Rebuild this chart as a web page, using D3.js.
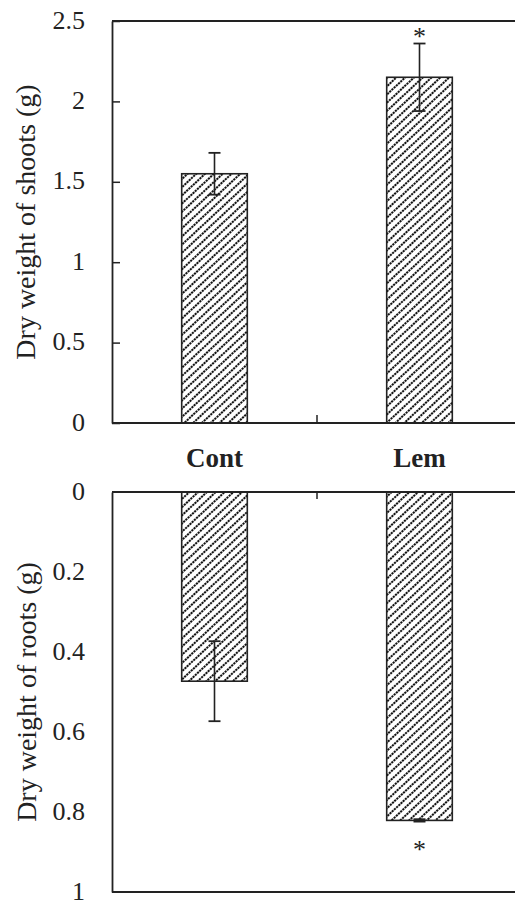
<!DOCTYPE html>
<html>
<head>
<meta charset="utf-8">
<script src="https://cdn.jsdelivr.net/npm/d3@7"></script>
<style>
  body { margin: 0; background: #fff; }
</style>
</head>
<body>
<div id="chart"></div>
<script>
// data
const categories = ["Cont", "Lem"];
const shootMeans = [1.55, 2.15];
const shootErrors = [0.13, 0.21];
const shootStars = ["", "*"];
const rootMeans = [0.473, 0.821];
const rootErrors = [0.10, 0.003];
const rootStars = ["", "*"];
const shootTicks = [0, 0.5, 1, 1.5, 2, 2.5];
const rootTicks = [0, 0.2, 0.4, 0.6, 0.8, 1];

const W = 515, H = 905;
const axisX = 112;
const ink = "#222";
const serif = "'Liberation Serif'";

const svg = d3.select("#chart")
  .append("svg")
  .attr("width", W)
  .attr("height", H);

// hatch fill for the bars (dotted diagonal lines)
const pat = svg.append("defs")
  .append("pattern")
  .attr("id", "hatch")
  .attr("patternUnits", "userSpaceOnUse")
  .attr("width", 6)
  .attr("height", 6)
  .attr("patternTransform", "rotate(-43)");
pat.append("rect").attr("width", 6).attr("height", 6).attr("fill", "#fff");
pat.append("line")
  .attr("x1", 0).attr("y1", 3).attr("x2", 6).attr("y2", 3)
  .attr("stroke", "#111")
  .attr("stroke-width", 1.9)
  .attr("stroke-dasharray", "2.2,0.8");

const xScale = d3.scaleBand()
  .domain(categories)
  .range([axisX, axisX + 410])
  .paddingInner(0.68)
  .paddingOuter(0.34);

let drawPanel = (means, errors, stars, ticks, yScale, opts) => {
  const g = svg.append("g");
  const y0 = yScale(0);

  // y axis
  const yAxis = d3.axisLeft(yScale)
    .tickValues(ticks)
    .tickFormat(d => String(d))
    .tickSizeInner(opts.yTicks ? -8 : 0)
    .tickSizeOuter(0)
    .tickPadding(27);
  const ya = g.append("g")
    .attr("transform", `translate(${axisX},0)`)
    .call(yAxis);
  ya.select(".domain").attr("stroke", ink).attr("stroke-width", 1.8);
  ya.selectAll(".tick line").attr("stroke", ink).attr("stroke-width", 1.5);
  ya.selectAll(".tick text")
    .attr("dy", "0.27em")
    .style("font-family", serif)
    .style("font-size", "26px")
    .attr("fill", ink);

  // bars
  g.selectAll(".bar")
    .data(means)
    .enter()
    .append("rect")
    .attr("x", (d, i) => xScale(categories[i]))
    .attr("width", xScale.bandwidth())
    .attr("y", d => Math.min(y0, yScale(d)))
    .attr("height", d => Math.abs(yScale(d) - y0))
    .attr("fill", "url(#hatch)")
    .attr("stroke", ink)
    .attr("stroke-width", 1.6);

  // error bars
  const cx = i => xScale(categories[i]) + xScale.bandwidth() / 2;
  means.forEach((m, i) => {
    const a = yScale(m - errors[i]), b = yScale(m + errors[i]);
    g.append("line")
      .attr("x1", cx(i)).attr("x2", cx(i))
      .attr("y1", a).attr("y2", b)
      .attr("stroke", ink).attr("stroke-width", 1.6);
    [a, b].forEach(yy => {
      g.append("line")
        .attr("x1", cx(i) - 6).attr("x2", cx(i) + 6)
        .attr("y1", yy).attr("y2", yy)
        .attr("stroke", ink).attr("stroke-width", 1.8);
    });
    if (stars[i]) {
      g.append("text")
        .attr("x", cx(i))
        .attr("y", yScale(m + errors[i]) + opts.starOffset)
        .attr("text-anchor", "middle")
        .attr("fill", ink)
        .style("font-family", serif)
        .style("font-size", "26px")
        .text(stars[i]);
    }
  });

  // frame lines: zero line and the opposite edge
  const far = yScale(ticks[ticks.length - 1]);
  [y0, far].forEach(yy => {
    g.append("line")
      .attr("x1", axisX).attr("x2", W)
      .attr("y1", yy).attr("y2", yy)
      .attr("stroke", ink).attr("stroke-width", 1.8);
  });

  // tick between the two categories on the zero line
  const boundary = axisX + xScale.step();
  g.append("line")
    .attr("x1", boundary).attr("x2", boundary)
    .attr("y1", y0).attr("y2", y0 + opts.midTick)
    .attr("stroke", ink).attr("stroke-width", 1.5);
};

// top panel: shoots
const yTop = d3.scaleLinear().domain([0, 2.5]).range([423, 21]);
drawPanel(shootMeans, shootErrors, shootStars, shootTicks, yTop,
  { yTicks: true, starOffset: 1, midTick: -8 });

// bottom panel: roots (axis runs downward)
const yBot = d3.scaleLinear().domain([0, 1]).range([492, 892]);
drawPanel(rootMeans, rootErrors, rootStars, rootTicks, yBot,
  { yTicks: false, starOffset: 36, midTick: 7 });

// category labels between panels
svg.selectAll(".cat")
  .data(categories)
  .enter()
  .append("text")
  .attr("x", d => xScale(d) + xScale.bandwidth() / 2)
  .attr("y", 467)
  .attr("text-anchor", "middle")
  .attr("fill", ink)
  .style("font-family", serif)
  .style("font-size", "27px")
  .style("font-weight", "bold")
  .text(d => d);

// y axis titles
svg.append("text")
  .attr("transform", "translate(35,222) rotate(-90)")
  .attr("text-anchor", "middle")
  .attr("fill", ink)
  .style("font-family", serif)
  .style("font-size", "28px")
  .text("Dry weight of shoots (g)");

svg.append("text")
  .attr("transform", "translate(36,692) rotate(-90)")
  .attr("text-anchor", "middle")
  .attr("fill", ink)
  .style("font-family", serif)
  .style("font-size", "28px")
  .text("Dry weight of roots (g)");
</script>
</body>
</html>
